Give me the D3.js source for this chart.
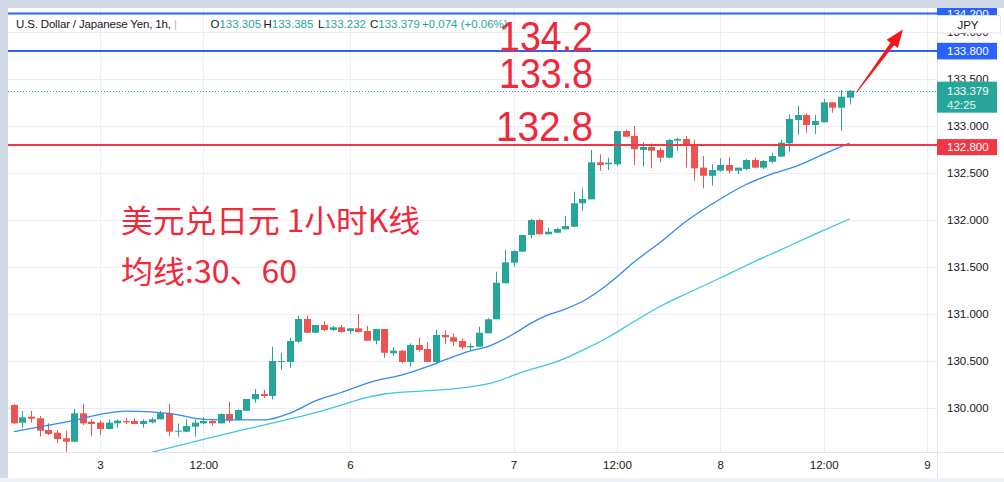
<!DOCTYPE html>
<html><head><meta charset="utf-8">
<script src="https://cdn.jsdelivr.net/npm/d3@7"></script>
<style>
html,body{margin:0;padding:0;background:#d3dae7;}
svg{display:block;}
</style></head>
<body>
<svg id="c" width="1004" height="482"></svg>
<script>
// ---------------- data ----------------
const openP = [130.035,129.847,129.911,129.894,129.769,129.740,129.681,129.645,129.947,129.857,
129.847,129.780,129.840,129.865,129.865,129.833,129.851,129.883,129.947,129.751,
129.751,129.804,129.840,129.865,129.840,129.939,129.876,129.974,130.096,130.152,
130.131,130.493,130.493,130.709,130.950,130.804,130.886,130.833,130.862,130.822,
130.851,130.822,130.719,130.844,130.585,130.613,130.493,130.673,130.631,130.493,
130.780,130.755,130.716,130.649,130.655,130.798,130.947,131.330,131.549,131.666,
131.844,132.003,131.851,131.868,131.904,131.932,132.181,132.223,132.617,132.596,
132.596,132.950,132.897,132.748,132.780,132.748,132.666,132.847,132.865,132.801,
132.560,132.474,132.528,132.588,132.528,132.546,132.641,132.560,132.623,132.677,
132.819,133.067,133.120,133.014,133.043,133.255,133.198,133.305];
const highP = [130.046,129.971,129.971,129.918,129.840,129.769,129.759,129.993,130.046,129.883,
129.868,129.883,129.883,129.894,129.894,129.883,129.904,129.971,130.046,129.840,
129.883,129.883,129.904,129.886,129.947,130.070,129.989,130.099,130.205,130.195,
130.655,130.591,130.751,130.985,130.985,130.886,130.929,130.876,130.886,130.851,
131.003,130.876,130.844,130.844,130.649,130.620,130.691,130.751,130.702,130.833,
130.833,130.798,130.745,130.691,130.868,130.957,131.453,131.684,131.684,131.844,
132.014,132.014,131.921,131.921,132.046,132.304,132.340,132.748,132.702,132.666,
132.950,132.961,133.003,132.830,132.819,132.772,132.865,132.879,132.897,132.854,
132.684,132.596,132.660,132.670,132.560,132.652,132.670,132.641,132.719,132.854,
133.128,133.219,133.138,133.120,133.290,133.255,133.386,133.385];
const lowP = [129.833,129.794,129.847,129.698,129.716,129.628,129.538,129.640,129.822,129.705,
129.716,129.775,129.794,129.833,129.830,129.794,129.840,129.880,129.705,129.698,
129.748,129.698,129.830,129.815,129.838,129.847,129.874,129.974,130.060,130.106,
130.096,130.407,130.429,130.698,130.804,130.804,130.822,130.822,130.804,130.790,
130.804,130.719,130.681,130.538,130.560,130.479,130.443,130.602,130.493,130.468,
130.681,130.663,130.628,130.620,130.655,130.798,130.947,131.330,131.506,131.666,
131.809,131.851,131.851,131.862,131.904,131.932,132.102,132.223,132.528,132.535,
132.578,132.889,132.588,132.570,132.553,132.617,132.660,132.740,132.560,132.421,
132.340,132.368,132.517,132.500,132.489,132.535,132.560,132.546,132.606,132.677,
132.730,132.907,132.932,132.918,133.043,133.145,132.953,133.232];
const closeP = [129.840,129.904,129.889,129.762,129.727,129.673,129.645,129.947,129.840,129.833,
129.780,129.847,129.868,129.851,129.833,129.865,129.883,129.947,129.751,129.762,
129.812,129.847,129.865,129.840,129.939,129.868,129.982,130.099,130.152,130.131,
130.503,130.503,130.716,130.950,130.804,130.886,130.833,130.862,130.812,130.851,
130.812,130.719,130.844,130.591,130.613,130.493,130.673,130.620,130.493,130.780,
130.755,130.709,130.649,130.663,130.804,130.947,131.336,131.553,131.673,131.844,
132.003,131.851,131.879,131.907,131.939,132.181,132.227,132.617,132.588,132.613,
132.950,132.889,132.755,132.780,132.740,132.666,132.854,132.865,132.809,132.553,
132.474,132.535,132.588,132.528,132.560,132.641,132.560,132.631,132.684,132.826,
133.078,133.120,133.014,133.056,133.255,133.198,133.315,133.379];

const ma30Idx = [0,6,13,18,22,26,29,32,35,38,42,45,48,50,53,55,58,60,62,64,66,69,72,75,78,82,85,88,91,94,97];
const ma30Val = [129.752,129.854,129.971,129.947,129.883,129.876,129.876,129.947,130.078,130.168,130.294,130.354,130.443,130.514,130.610,130.657,130.790,130.904,130.993,131.056,131.136,131.322,131.556,131.764,131.987,132.227,132.381,132.493,132.582,132.705,132.822];
const ma60Idx = [16,22,29,35,38,41,43,48,53,56,59,63,66,69,72,75,78,82,85,89,93,97];
const ma60Val = [129.532,129.670,129.822,129.953,130.035,130.115,130.152,130.187,130.227,130.285,130.386,130.496,130.617,130.756,130.923,131.083,131.216,131.386,131.519,131.686,131.852,132.014];

const timeTickIdx = [10,22,39,58,70,82,94,106];
const timeTickLabels = ["3","12:00","6","7","12:00","8","12:00","9"];
const priceTicks = [130,130.5,131,131.5,132,132.5,133,133.5,134];

const levels = [134.2,133.8,132.8];
const levelLabels = ["134.2","133.8","132.8"];
const lastPrice = 133.379;
const countdown = "42:25";
const headerTitle = "U.S. Dollar / Japanese Yen, 1h,";
const ohlcLetters = ["O","H","L","C"];
const ohlcValues = ["133.305","133.385","133.232","133.379"];
const changeText = "+0.074 (+0.06%)";
const titleCN = "美元兑日元 1小时K线";
const subtitleCN = "均线:30、60";
const arrowFrom = [97.8,133.36];
const arrowTo = [103.2,134.03];

// ---------------- drawing ----------------
const W=1004,H=482;
const UP="#26a69a", DN="#ef5350", BLUE="#2962ff", RED="#f23645", TXT="#131722";
const FONT="'Liberation Sans', Arial, sans-serif";
const svg=d3.select("#c");
svg.append("rect").attr("width",W).attr("height",H).attr("fill","#d3dae7");
svg.append("rect").attr("x",0).attr("y",478).attr("width",W).attr("height",4).attr("fill","#eef1f7");
svg.append("rect").attr("x",8).attr("y",8).attr("width",W-8).attr("height",470).attr("fill","#ffffff");

const P={l:8,r:937,t:8,b:452};
const x=d3.scaleLinear().domain([0,106]).range([13.85,927.04]);
const y=d3.scaleLinear().domain([130,134]).range([408.3,32.3]);

svg.append("clipPath").attr("id","clip").append("rect")
  .attr("x",P.l).attr("y",P.t).attr("width",P.r-P.l).attr("height",P.b-P.t);

// grid
const grid=svg.append("g").attr("clip-path","url(#clip)");
grid.selectAll("line.h").data(priceTicks).enter().append("line")
  .attr("x1",P.l).attr("x2",P.r).attr("y1",d=>Math.round(y(d))+0.5).attr("y2",d=>Math.round(y(d))+0.5)
  .attr("stroke","#eceef3").attr("stroke-width",1);
grid.selectAll("line.v").data(timeTickIdx).enter().append("line")
  .attr("y1",P.t).attr("y2",P.b).attr("x1",d=>Math.round(x(d))+0.5).attr("x2",d=>Math.round(x(d))+0.5)
  .attr("stroke","#eceef3").attr("stroke-width",1);

// axis frame lines
svg.append("line").attr("x1",P.l).attr("x2",W).attr("y1",P.b+0.5).attr("y2",P.b+0.5).attr("stroke","#e0e3eb");
svg.append("line").attr("x1",P.r+0.5).attr("x2",P.r+0.5).attr("y1",P.t).attr("y2",478).attr("stroke","#e0e3eb");

// axes
const xAxis=d3.axisBottom(x).tickValues(timeTickIdx).tickFormat((d,i)=>timeTickLabels[i]).tickSize(0).tickPadding(9);
const gx=svg.append("g").attr("transform",`translate(0,${P.b})`).call(xAxis);
gx.select(".domain").remove();
gx.selectAll("text").attr("font-family",FONT).attr("font-size","11.5px").attr("fill",TXT);

const yAxis=d3.axisRight(y).tickValues(priceTicks).tickFormat(d3.format(".3f")).tickSize(0).tickPadding(10);
const gy=svg.append("g").attr("transform",`translate(${P.r},0)`).call(yAxis);
gy.select(".domain").remove();
gy.selectAll("text").attr("font-family",FONT).attr("font-size","11.5px").attr("fill",TXT);

// plot content
const plot=svg.append("g").attr("clip-path","url(#clip)");
const candles=openP.map((o,i)=>({i,o,h:highP[i],l:lowP[i],c:closeP[i]}));
const cg=plot.append("g");
cg.selectAll("line").data(candles).enter().append("line")
  .attr("x1",d=>Math.round(x(d.i))+0.5).attr("x2",d=>Math.round(x(d.i))+0.5)
  .attr("y1",d=>y(d.h)).attr("y2",d=>y(d.l))
  .attr("stroke",d=>d.c>=d.o?UP:DN).attr("stroke-width",1);
cg.selectAll("rect").data(candles).enter().append("rect")
  .attr("x",d=>Math.round(x(d.i))-3).attr("width",7)
  .attr("y",d=>y(Math.max(d.o,d.c)))
  .attr("height",d=>Math.max(1,Math.abs(y(d.o)-y(d.c))))
  .attr("fill",d=>d.c>=d.o?UP:DN);

const line=d3.line().x(d=>x(d[0])).y(d=>y(d[1])).curve(d3.curveMonotoneX);
plot.append("path").datum(ma60Idx.map((d,k)=>[d,ma60Val[k]])).attr("d",line)
  .attr("fill","none").attr("stroke","#3cc8dc").attr("stroke-width",1.3);
plot.append("path").datum(ma30Idx.map((d,k)=>[d,ma30Val[k]])).attr("d",line)
  .attr("fill","none").attr("stroke","#2f8cf0").attr("stroke-width",1.3);

// current price dotted line
plot.append("line").attr("x1",P.l).attr("x2",P.r).attr("y1",Math.round(y(lastPrice))+0.5).attr("y2",Math.round(y(lastPrice))+0.5)
  .attr("stroke",UP).attr("stroke-width",1).attr("stroke-dasharray","1,2");

// horizontal level lines
const levelColors=[BLUE,BLUE,RED];
svg.append("g").attr("clip-path","url(#clip)").selectAll("line").data(levels).enter().append("line")
  .attr("x1",P.l).attr("x2",P.r).attr("y1",d=>y(d)).attr("y2",d=>y(d))
  .attr("stroke",(d,i)=>levelColors[i]).attr("stroke-width",2);

// axis price labels
const lab=svg.append("g").attr("font-family",FONT).attr("font-size","11.5px");
svg.append("clipPath").attr("id","clipTop").append("rect").attr("x",P.r).attr("y",8).attr("width",70).attr("height",470);
const lab134=lab.append("g").attr("clip-path","url(#clipTop)");
lab134.append("rect").attr("x",P.r).attr("y",y(levels[0])-8.5).attr("width",60).attr("height",17).attr("fill",BLUE);
lab134.append("text").attr("x",P.r+10).attr("y",y(levels[0])).attr("dy","0.35em").attr("fill","#fff").text(d3.format(".3f")(levels[0]));
lab.append("rect").attr("x",P.r).attr("y",y(levels[1])-8.3).attr("width",60).attr("height",16.6).attr("fill",BLUE);
lab.append("text").attr("x",P.r+10).attr("y",y(levels[1])).attr("dy","0.35em").attr("fill","#fff").text(d3.format(".3f")(levels[1]));
// last price
lab.append("rect").attr("x",P.r).attr("y",y(lastPrice)-9).attr("width",60).attr("height",31).attr("fill",UP);
lab.append("text").attr("x",P.r+10).attr("y",y(lastPrice)).attr("dy","0.35em").attr("fill","#fff").text(d3.format(".3f")(lastPrice));
lab.append("text").attr("x",P.r+10).attr("y",y(lastPrice)+14).attr("dy","0.35em").attr("fill","#e8f6f4").text(countdown);
// red level
lab.append("rect").attr("x",P.r).attr("y",y(levels[2])-6).attr("width",60).attr("height",16).attr("fill",RED);
lab.append("text").attr("x",P.r+10).attr("y",y(levels[2])+2).attr("dy","0.35em").attr("fill","#fff").text(d3.format(".3f")(levels[2]));
// JPY box
lab.append("rect").attr("x",P.r+0.5).attr("y",15.5).attr("width",63).attr("height",17.5).attr("fill","#fff").attr("stroke","#e0e3eb");
lab.append("text").attr("x",968).attr("y",24.5).attr("dy","0.35em").attr("text-anchor","middle").attr("fill",TXT).text("JPY");

// header legend
const hd=svg.append("g").attr("font-family",FONT).attr("font-size","11.5px");
hd.append("text").attr("x",16).attr("y",28).attr("fill",TXT)
  .attr("textLength",155).attr("lengthAdjust","spacing").text(headerTitle);
hd.append("text").attr("x",174).attr("y",28).attr("fill","#b2b5be").text("|");
const ohlcX=[210.5,263.5,318,370];
ohlcLetters.forEach((L,k)=>{
  const t=hd.append("text").attr("x",ohlcX[k]).attr("y",28).attr("fill",TXT);
  t.append("tspan").text(L);
  t.append("tspan").attr("fill",UP).text(ohlcValues[k]);
});
hd.append("text").attr("x",422).attr("y",28).attr("fill",UP).text(changeText);

// big red level annotations
const RT="#f0283a";
const ann=svg.append("g").attr("font-family",FONT).attr("font-size","43px").attr("fill",RT);
levelLabels.forEach((s,k)=>{
  const base = k<2 ? y(levels[k])+37 : y(levels[k])-4;
  ann.append("text").attr("x",k===2?496:499).attr("y",base)
    .attr("textLength",k===2?97:94).attr("lengthAdjust","spacingAndGlyphs").text(s);
});

// Chinese notes
const cn=svg.append("g").attr("font-family","'Noto Sans CJK SC', sans-serif").attr("fill",RT).attr("font-size","31px");
cn.append("text").attr("x",121).attr("y",232).attr("textLength",299).attr("lengthAdjust","spacingAndGlyphs").text(titleCN);
cn.append("text").attr("x",121).attr("y",283).attr("textLength",176).attr("lengthAdjust","spacingAndGlyphs").text(subtitleCN);

// red arrow
(function(){
  const sx=x(arrowFrom[0]), sy=y(arrowFrom[1]), tx=x(arrowTo[0]), ty=y(arrowTo[1]);
  const dx=tx-sx, dy=ty-sy, len=Math.hypot(dx,dy), ux=dx/len, uy=dy/len, nx=-uy, ny=ux;
  const hl=18, hw=7, sw=2.2, s0=0.5;
  const bx=tx-ux*hl, by=ty-uy*hl;
  const pts=[[sx+nx*s0,sy+ny*s0],[bx+nx*sw,by+ny*sw],[bx+nx*hw,by+ny*hw],[tx,ty],
             [bx-nx*hw,by-ny*hw],[bx-nx*sw,by-ny*sw],[sx-nx*s0,sy-ny*s0]];
  svg.append("polygon").attr("points",pts.map(p=>p.join(",")).join(" ")).attr("fill","#f5161b");
})();
</script>
</body></html>
